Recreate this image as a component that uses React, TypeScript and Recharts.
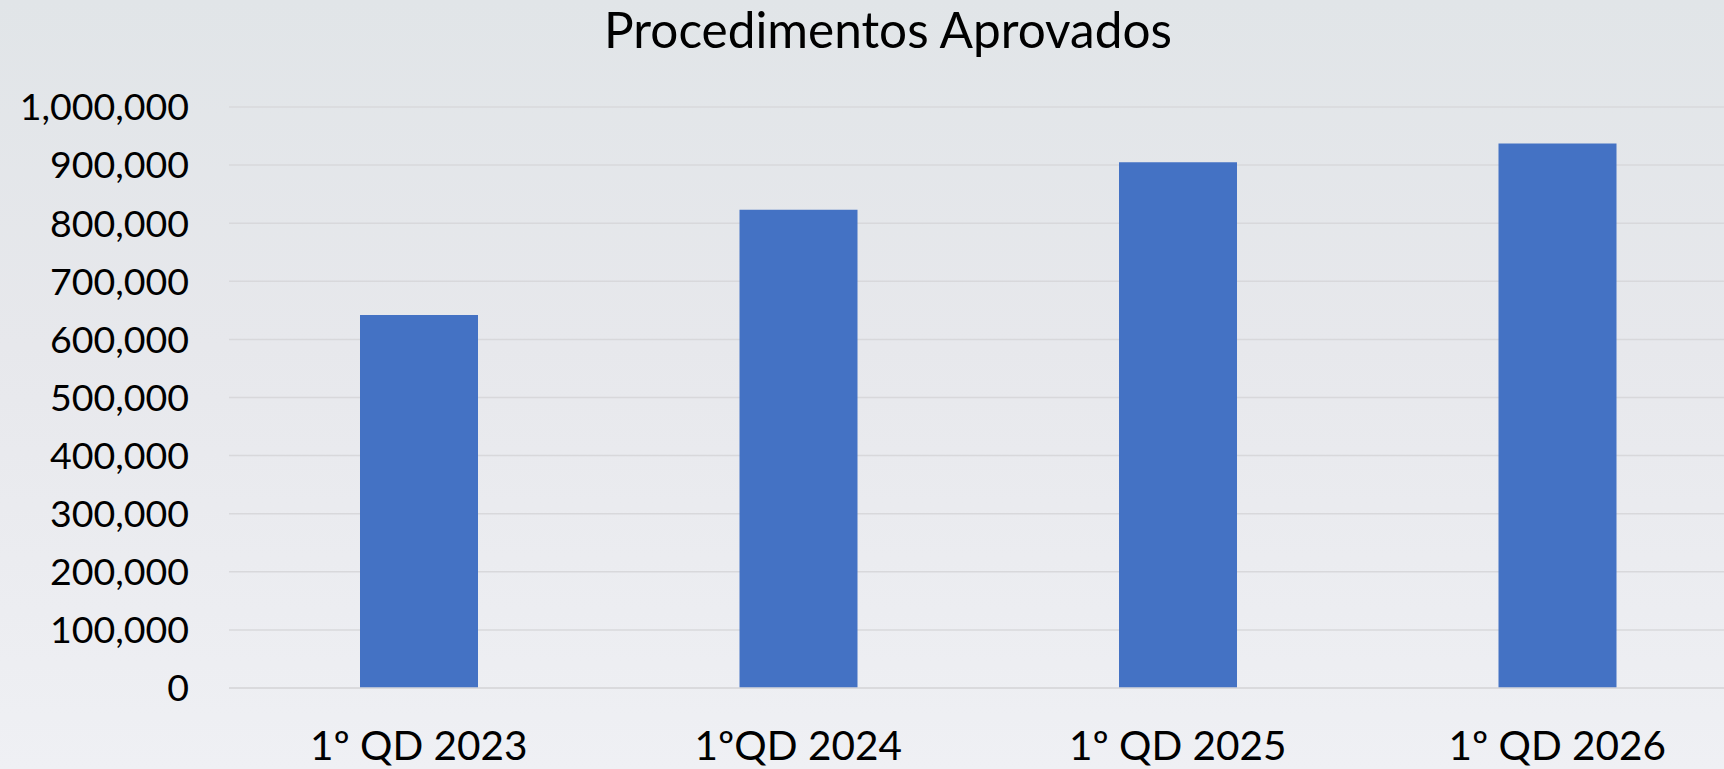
import { BarChart, Bar, XAxis, YAxis, CartesianGrid } from "recharts";

const categories = ["1º QD 2023", "1ºQD 2024", "1º QD 2025", "1º QD 2026"];
const approved = [642000, 823000, 905000, 937000];
const yTicks = [0, 100000, 200000, 300000, 400000, 500000, 600000, 700000, 800000, 900000, 1000000];

const data = categories.map((c, i) => ({ name: c, value: approved[i] }));

const W = 1724;
const H = 769;
const FONT = "Lato, 'Open Sans', sans-serif";

export default function App() {
  return (
    <div
      style={{
        position: "fixed",
        left: 0,
        top: 0,
        width: W,
        height: H,
        background: "linear-gradient(to bottom, #e1e5e8 0%, #e7e8ec 45%, #eff0f4 100%)",
        fontFamily: FONT,
      }}
    >
      <BarChart
        width={W}
        height={H}
        data={data}
        margin={{ top: 107, right: -23, bottom: 0, left: 0 }}
        barSize={118}
      >
        <CartesianGrid vertical={false} stroke="#d8d8db" strokeWidth={1.5} />
        <XAxis
          dataKey="name"
          height={81}
          axisLine={{ stroke: "#d8d8db", strokeWidth: 1.5 }}
          tickLine={false}
          tickSize={0}
          tickMargin={43}
          interval={0}
          tick={{ fill: "#000", fontSize: 40.5, fontFamily: FONT }}
        />
        <YAxis
          width={229}
          domain={[0, 1000000]}
          ticks={yTicks}
          axisLine={false}
          tickLine={false}
          tickSize={0}
          tickMargin={40}
          tickFormatter={(v: number) => v.toLocaleString("en-US")}
          tick={{ fill: "#000", fontSize: 37.5, fontFamily: FONT }}
        />
        <Bar dataKey="value" fill="#4472C4" isAnimationActive={false} />
      </BarChart>
      <svg width={W} height={H} style={{ position: "absolute", left: 0, top: 0, pointerEvents: "none" }}>
        <text x={888} y={48} textAnchor="middle" fontSize={49.5} fontFamily={FONT} fill="#000">
          Procedimentos Aprovados
        </text>
      </svg>
    </div>
  );
}
